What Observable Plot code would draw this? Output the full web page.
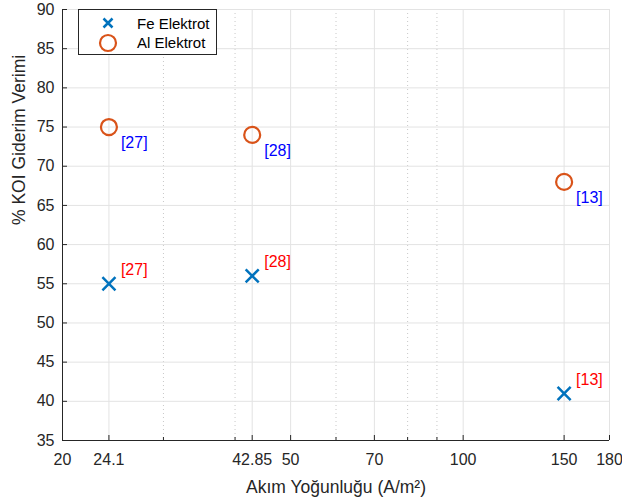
<!DOCTYPE html>
<html>
<head>
<meta charset="utf-8">
<script src="https://cdn.jsdelivr.net/npm/d3@7"></script>
<script src="https://cdn.jsdelivr.net/npm/@observablehq/plot@0.6"></script>
<style>
  body { margin: 0; background: #fff; font-family: "Liberation Sans", Arial, sans-serif; }
  #wrap { position: relative; width: 622px; height: 501px; }
  #legend { position: absolute; left: 78px; top: 9px; }
</style>
</head>
<body>
<div id="wrap"></div>
<script>
// ---- data ----
const currentDensity = [24.1, 42.85, 150];
const feEfficiency = [55, 56, 41];
const alEfficiency = [75, 74, 68];
const references = ["[27]", "[28]", "[13]"];
const seriesNames = ["Fe Elektrot", "Al Elektrot"];
const xTicks = [20, 24.1, 42.85, 50, 70, 100, 150, 180];
const xMinorTicks = [30, 40, 60, 80, 90];
const yTicks = [35, 40, 45, 50, 55, 60, 65, 70, 75, 80, 85, 90];
const xTitle = "Akım Yoğunluğu (A/m²)";
const yTitle = "% KOI Giderim Verimi";

const fe = currentDensity.map((x, i) => ({x, y: feEfficiency[i], ref: references[i]}));
const al = currentDensity.map((x, i) => ({x, y: alEfficiency[i], ref: references[i]}));

const feColor = "#0072bd", alColor = "#d95319";
const ink = "#262626";

const chart = Plot.plot({
  width: 622,
  height: 501,
  marginLeft: 62,
  marginRight: 13,
  marginTop: 9,
  marginBottom: 61,
  x: {type: "log", domain: [20, 180]},
  y: {domain: [35, 90]},
  style: {fontFamily: "'Liberation Sans', Arial, sans-serif", fontSize: "16px", color: ink, background: "#fff"},
  marks: [
    Plot.ruleX(xMinorTicks, {stroke: "#c8c8c8", strokeDasharray: "1,3"}),
    Plot.ruleX(xTicks, {stroke: "#e3e3e3"}),
    Plot.ruleY(yTicks, {stroke: "#e3e3e3"}),
    Plot.ruleX([20], {stroke: ink}),
    Plot.ruleY([35], {stroke: ink}),
    Plot.axisX(xTicks, {tickSize: -5, tickPadding: 18, tickFormat: d => String(d), label: null, stroke: ink, fill: ink, fontSize: 16}),
    Plot.axisX(xMinorTicks, {tickSize: -3, text: null, label: null, stroke: ink}),
    Plot.axisY(yTicks, {tickSize: -5, tickPadding: 13, label: null, stroke: ink, fill: ink, fontSize: 16}),
    Plot.text([xTitle], {frameAnchor: "bottom", dy: 47, lineAnchor: "middle", fontSize: 17.5, fill: ink}),
    Plot.text([yTitle], {frameAnchor: "left", dx: -43, rotate: -90, lineAnchor: "middle", fontSize: 17.5, fill: ink}),
    Plot.dot(fe, {x: "x", y: "y", symbol: "times", r: 6, stroke: feColor, strokeWidth: 2.5}),
    Plot.dot(al, {x: "x", y: "y", symbol: "circle", r: 8, stroke: alColor, strokeWidth: 2.2, fill: "none"}),
    Plot.text(fe, {x: "x", y: "y", text: "ref", fill: "#ff0000", dx: 12, dy: -14, textAnchor: "start", fontSize: 16}),
    Plot.text(al, {x: "x", y: "y", text: "ref", fill: "#0000ff", dx: 12, dy: 16, textAnchor: "start", fontSize: 16})
  ]
});
const wrap = document.getElementById("wrap");
wrap.appendChild(chart);

// legend
const ns = "http://www.w3.org/2000/svg";
const lg = document.createElementNS(ns, "svg");
lg.setAttribute("id", "legend");
lg.setAttribute("width", 139);
lg.setAttribute("height", 47);
lg.innerHTML = `
  <rect x="0.5" y="0.5" width="138" height="45" fill="#fff" stroke="${ink}" stroke-width="1"/>
  <path d="M25.5,9.5 L34.5,18.5 M34.5,9.5 L25.5,18.5" stroke="${feColor}" stroke-width="2.5"/>
  <circle cx="30" cy="34" r="8" fill="none" stroke="${alColor}" stroke-width="2.2"/>
  <text x="59" y="14.5" dy="0.35em" font-size="15" fill="#000" font-family="'Liberation Sans', Arial, sans-serif">${seriesNames[0]}</text>
  <text x="59" y="34" dy="0.35em" font-size="15" fill="#000" font-family="'Liberation Sans', Arial, sans-serif">${seriesNames[1]}</text>`;
wrap.appendChild(lg);
</script>
</body>
</html>
